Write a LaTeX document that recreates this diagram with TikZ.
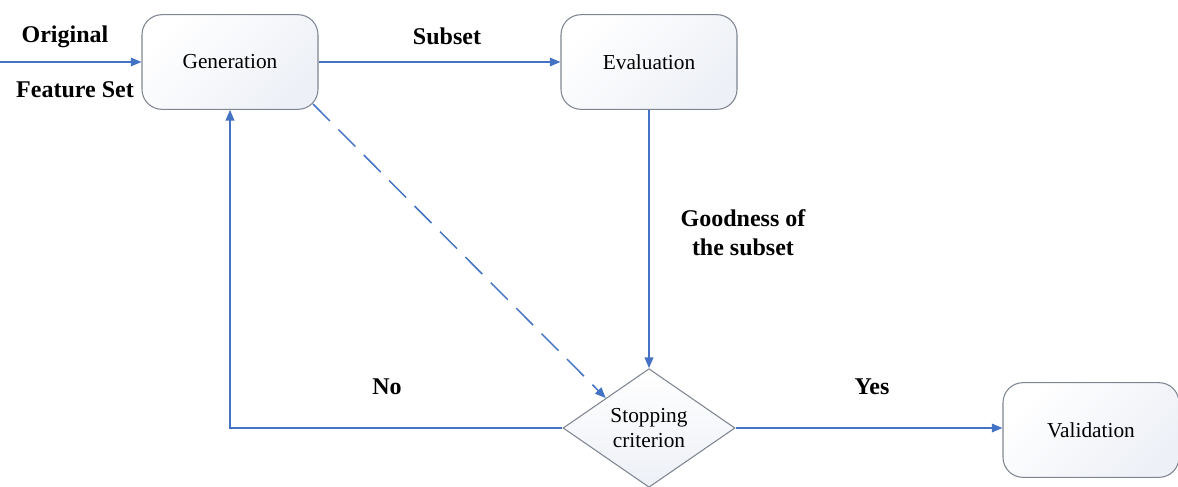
\documentclass[tikz,border=0pt]{standalone}
\usepackage{fontspec}
\setmainfont{Liberation Serif}
\usetikzlibrary{shapes.geometric,arrows.meta,shadings}
\definecolor{conn}{HTML}{4472C4}
\definecolor{boxline}{HTML}{7F8691}
\definecolor{boxfill}{HTML}{EDF0F6}
\tikzset{
  x=0.75pt,y=-0.75pt,
  procbox/.style={draw=boxline,line width=0.8pt,rounded corners=15pt,
    top color=white,bottom color=boxfill,shading angle=45,
    minimum width=132pt,minimum height=71pt,inner sep=0pt,
    font=\rmfamily\fontsize{16}{18}\selectfont},
  decbox/.style={diamond,draw=boxline,line width=0.8pt,
    top color=white,bottom color=boxfill,
    minimum width=129pt,minimum height=89pt,inner sep=0pt,
    align=center,font=\rmfamily\fontsize{16}{19}\selectfont},
  conline/.style={draw=conn,line width=1.1pt,-{Triangle[length=8pt,width=6.5pt]}},
  lbl/.style={font=\rmfamily\bfseries\fontsize{18}{22}\selectfont,align=center,inner sep=0pt}
}
\begin{document}
\begin{tikzpicture}
\useasboundingbox (0,0) rectangle (1178,486);
\node[procbox] (gen) at (230,62) {Generation};
\node[procbox] (eval) at (649,62) {Evaluation};
\node[decbox] (stop) at (649,428) {Stopping\\criterion};
\node[procbox] (val) at (1091,430) {Validation};
\coordinate (in) at (0,62);
\coordinate (corner) at (230,428);
\coordinate (dstart) at (313,104);
\draw[conline] (in) -- (gen.west);
\draw[conline] (gen.east) -- (eval.west);
\draw[conline] (eval.south) -- (stop.north);
\draw[conline] (stop.west) -- (corner) -- (gen.south);
\draw[conline] (stop.east) -- (stop.east -| val.west);
\draw[conline,dash pattern=on 18pt off 9pt] (dstart) -- (stop.north west);
\node[lbl] (lorig) at (65,37) {Original};
\node[lbl] (lfeat) at (75,90) {Feature Set};
\node[lbl] (lsub) at (447,36) {Subset};
\node[lbl] (lgood) at (743,233) {Goodness of\\the subset};
\node[lbl] (lno) at (387,387) {No};
\node[lbl] (lyes) at (872,387) {Yes};
\end{tikzpicture}
\end{document}
